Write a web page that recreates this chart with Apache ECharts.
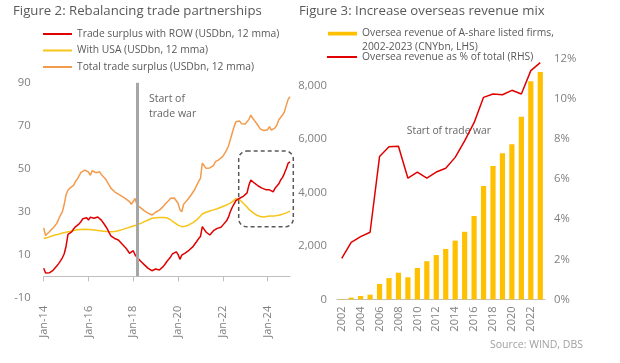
<!DOCTYPE html>
<html><head><meta charset="utf-8">
<script src="https://cdn.jsdelivr.net/npm/echarts@6/dist/echarts.min.js"></script>
<style>html,body{margin:0;padding:0;background:#fff}#c{width:620px;height:363px}</style>
</head><body><div id="c"></div>
<script>
// ---------- Figure 2 data (monthly, Jan-14 .. Jan-25) ----------
const monthNames = ['Jan','Feb','Mar','Apr','May','Jun','Jul','Aug','Sep','Oct','Nov','Dec'];
const months = [];
for (let y = 14; y <= 25; y++) for (let m = 0; m < 12; m++) { if (y === 25 && m > 0) break; months.push(monthNames[m] + '-' + y); }

const rowSurplus = [3.7,1.5,1.2,1.6,2.1,2.8,3.7,4.8,5.9,7.2,
 8.6,10.5,14,19.5,20.2,20.7,22,23,23.6,24.4,
 25.5,26.8,27.7,27.2,26.2,27.5,27.7,27,27.4,27.6,
 27,26,24.8,23.5,22.2,20.4,18.8,18.2,17.6,17.2,
 16.9,16.2,15,14.1,13.2,12,10.7,10.2,11.9,9.9,
 8.9,8,7,6.1,5.3,4.5,3.7,3.2,2.6,2.4,
 3.4,2.5,2.9,3.7,4.5,5.6,6.9,7.9,9,10.4,
 10.8,11.4,10.2,7.9,9.8,10.7,10.9,11.4,12.2,13.1,
 13.8,15,16.2,17.5,18.5,23.1,21.8,20.6,19.8,19.2,
 20,21.2,21.5,22.3,23.1,22.8,23.8,24.6,25.8,27.5,
 30,32,33.6,35.2,36,36.3,36.8,37.2,37.8,38.8,
 42.5,44.8,44,43.3,42.6,42,41.5,41,40.1,40.3,
 40.9,40.2,39.6,39.3,41,42,43,44.8,46,47.9,
 50,52.6,53.2];
const usaSurplus = [17.6,17.8,18,18.3,18.6,18.9,19.2,19.4,19.6,19.9,
 20.1,20.3,20.5,20.7,20.9,21.1,21.3,21.5,21.6,21.7,
 21.8,21.9,21.9,21.8,21.8,21.7,21.6,21.5,21.4,21.3,
 21.2,21.1,21,20.9,20.8,20.8,20.7,20.7,20.8,21,
 21.2,21.4,21.7,22,22.3,22.5,22.8,23.1,23.4,23.6,
 23.9,24.2,24.6,25,25.4,25.8,26.2,26.6,27,27.1,
 27.2,27.3,27.4,27.4,27.4,27.4,27.2,26.8,26.3,25.6,
 25,24.4,23.8,23.3,23.1,23.1,23.3,23.6,24,24.5,
 25,25.6,26.2,27,28,29,29.5,29.8,30.1,30.4,
 30.7,30.9,31.1,31.4,31.7,32.1,32.4,32.8,33.2,33.6,
 34.1,34.6,35.3,36.1,36.2,35.6,34.8,34,33.1,32.2,
 31.1,30.3,29.7,29,28.5,28.1,27.8,27.7,27.6,27.7,
 27.9,27.8,28,28,28.1,28.2,28.4,28.6,28.9,29.2,
 29.5,30,30.3];
const totalSurplus = [22.5,19,19.8,20.7,21.5,22.5,23.5,24.6,26.5,28.5,
 30,33.5,38,40,41,41.5,42.3,44,45.2,46.8,
 48.3,48.8,49.4,49.8,48.5,47,49.1,48.5,48.2,48.8,
 48.6,47.2,46.3,45.4,44,42.5,41,40.2,39.3,38.6,
 38.2,37.6,37.2,36.8,36,35.4,34.7,33.5,33,36.2,
 33.2,32.5,31.8,31,30.4,30,29.4,28.8,28.5,28.6,
 29.8,28.9,30.8,31.5,32.4,33.5,34.3,35.3,36.3,35.7,
 36.4,35.5,34,31,30,33.5,34.5,35.5,36.3,37.8,
 38.6,40.5,42.3,44,45.5,52.6,51.5,50.2,50,50.4,
 49.8,51.5,53.3,53.7,54.3,54.9,55.8,57.2,58.7,60.5,
 63.5,66.5,69.5,71.9,72.4,72.2,71,70.4,70.8,70.2,
 73,75,73.5,72.4,71.2,70,68.6,68,67.8,68.4,
 68.2,69.6,68,67.3,69,70.4,72.8,73.5,75,76.5,
 79.5,82.3,83.5];
const tradeWarMonth = 'Mar-18';

// ---------- Figure 3 data ----------
const years = ['2002','2003','2004','2005','2006','2007','2008','2009','2010','2011','2012','2013','2014','2015','2016','2017','2018','2019','2020','2021','2022','2023'];
const overseaRevenue = [20,70,130,180,580,800,1000,830,1180,1430,1660,1890,2200,2530,3120,4240,4990,5460,5800,6830,8150,8500];
const overseaShare = [2.05,2.85,3.13,3.35,7.12,7.61,7.63,6.04,6.35,6.05,6.35,6.54,7.08,7.9,8.81,10.07,10.24,10.2,10.42,10.24,11.4,11.8];
const tradeWarYear = 2018.4;

const N_ROW = 'Trade surplus with ROW (USDbn, 12 mma)';
const N_USA = 'With USA (USDbn, 12 mma)';
const N_TOT = 'Total trade surplus (USDbn, 12 mma)';
const N_BAR = 'Oversea revenue of A-share listed firms,\n2002-2023 (CNYbn, LHS)';
const N_PCT = 'Oversea revenue as % of total (RHS)';

const FONT = "'Open Sans', sans-serif";
const GREY = '#808080';
const TXT = '#595959';
const AXC = '#bfbfbf';
const LEG = 10.3;
const AX = 11.3;

const chart = echarts.init(document.getElementById('c'), null, {renderer: 'canvas'});
chart.setOption({
  animation: false,
  textStyle: {fontFamily: FONT},
  title: [
    {text: 'Figure 2: Rebalancing trade partnerships', left: 13, top: 5, padding: 0, textStyle: {fontSize: 13.2, fontWeight: 'normal', color: TXT, fontFamily: FONT}},
    {text: 'Figure 3: Increase overseas revenue mix', left: 299, top: 5, padding: 0, textStyle: {fontSize: 13.2, fontWeight: 'normal', color: TXT, fontFamily: FONT}},
    {text: 'Source: WIND, DBS', left: 490, top: 340, padding: 0, textStyle: {fontSize: 10.5, fontWeight: 'normal', color: '#a0a0a0', fontFamily: FONT}}
  ],
  legend: [
    {data: [N_ROW, N_USA, N_TOT], orient: 'vertical', left: 43, top: 27, padding: 0, itemGap: 2.5, itemWidth: 29, itemHeight: 2, icon: 'rect',
     textStyle: {fontSize: LEG, color: TXT, lineHeight: 14, fontFamily: FONT}},
    {data: [N_BAR], left: 328, top: 26, padding: 0, itemWidth: 29, itemHeight: 26,
     icon: 'path://M0,0L29,0L29,0.05Z M0,4.8H29V8.6H0Z M0,25.95L29,26L0,26Z',
     textStyle: {fontSize: LEG, color: TXT, lineHeight: 14, fontFamily: FONT}},
    {data: [N_PCT], left: 327, top: 50, padding: 0, itemWidth: 30, itemHeight: 2, icon: 'rect',
     textStyle: {fontSize: LEG, color: TXT, lineHeight: 14, fontFamily: FONT}}
  ],
  grid: [
    {left: 43.7, right: 330, top: 82.8, bottom: 65.2},
    {left: 337, right: 75, top: 58.6, bottom: 63.5}
  ],
  xAxis: [
    {gridIndex: 0, type: 'category', data: months, boundaryGap: false, position: 'bottom',
     axisLine: {show: false, onZero: false}, axisTick: {show: false},
     axisLabel: {interval: 23, rotate: 90, margin: 8, color: GREY, fontSize: 11, fontFamily: FONT}},
    {gridIndex: 0, type: 'category', data: months, boundaryGap: false, position: 'bottom',
     axisLine: {show: true, onZero: true, lineStyle: {color: AXC, width: 1}},
     axisTick: {show: true, interval: 23, length: 5, lineStyle: {color: AXC}},
     axisLabel: {show: false}},
    {gridIndex: 1, type: 'category', data: years, position: 'bottom',
     axisLine: {lineStyle: {color: AXC}}, axisTick: {show: false},
     axisLabel: {interval: 1, rotate: 90, margin: 7, color: GREY, fontSize: 11, fontFamily: FONT}},
    {gridIndex: 1, type: 'value', min: 2001.5, max: 2023.5, show: false}
  ],
  yAxis: [
    {gridIndex: 0, type: 'value', min: -10, max: 90, interval: 20, splitLine: {show: false},
     axisLine: {show: false}, axisTick: {show: false},
     axisLabel: {margin: 13, color: GREY, fontSize: AX, fontFamily: FONT}},
    {gridIndex: 1, type: 'value', min: 0, max: 9000, interval: 2000, splitLine: {show: false},
     axisLine: {show: false}, axisTick: {show: false},
     axisLabel: {showMaxLabel: false, margin: 10, color: GREY, fontSize: AX, fontFamily: FONT,
       formatter: v => v.toLocaleString('en-US')}},
    {gridIndex: 1, type: 'value', position: 'right', min: 0, max: 12, interval: 2, splitLine: {show: false},
     axisLine: {show: false}, axisTick: {show: false},
     axisLabel: {margin: 9, color: GREY, fontSize: AX, fontFamily: FONT, formatter: '{value}%'}}
  ],
  series: [
    {name: N_USA, type: 'line', xAxisIndex: 0, yAxisIndex: 0, data: usaSurplus, symbol: 'none', color: '#f7c419', lineStyle: {width: 1.5}},
    {name: N_TOT, type: 'line', xAxisIndex: 0, yAxisIndex: 0, data: totalSurplus, symbol: 'none', color: '#f39b4c', lineStyle: {width: 1.5}},
    {name: N_ROW, type: 'line', xAxisIndex: 0, yAxisIndex: 0, data: rowSurplus, symbol: 'none', color: '#e00000', lineStyle: {width: 1.5},
     markLine: {silent: true, symbol: 'none', animation: false, label: {show: false},
       lineStyle: {color: '#a6a6a6', width: 3, type: 'solid'},
       data: [[{coord: [tradeWarMonth, 0]}, {coord: [tradeWarMonth, 90]}]]}},
    {name: N_BAR, type: 'bar', xAxisIndex: 2, yAxisIndex: 1, data: overseaRevenue, color: '#ffc000', barWidth: '55%'},
    {name: N_PCT, type: 'line', xAxisIndex: 2, yAxisIndex: 2, data: overseaShare, symbol: 'none', color: '#e00000', lineStyle: {width: 1.5}},
    {name: 'tradewar', type: 'line', xAxisIndex: 3, yAxisIndex: 1, data: [[tradeWarYear, 0]], symbol: 'none', lineStyle: {width: 0},
     markLine: {silent: true, symbol: 'none', animation: false, label: {show: false},
       lineStyle: {color: '#999999', width: 2, type: [2, 2]},
       data: [[{coord: [tradeWarYear, -250]}, {coord: [tradeWarYear, 8100]}]]}}
  ],
  graphic: [
    {type: 'text', left: 149, top: 92, silent: true,
     style: {text: 'Start of\ntrade war', fill: '#666', font: "10.5px 'Open Sans', sans-serif", lineHeight: 14.5}},
    {type: 'text', right: 129, top: 126, silent: true,
     style: {text: 'Start of trade war', fill: '#666', font: "10.3px 'Open Sans', sans-serif"}},
    {type: 'rect', silent: true, shape: {x: 238.7, y: 151, width: 54.6, height: 75.7, r: 8},
     style: {fill: 'none', stroke: '#595959', lineWidth: 1.5, lineDash: [4, 3]}}
  ]
});
</script></body></html>
